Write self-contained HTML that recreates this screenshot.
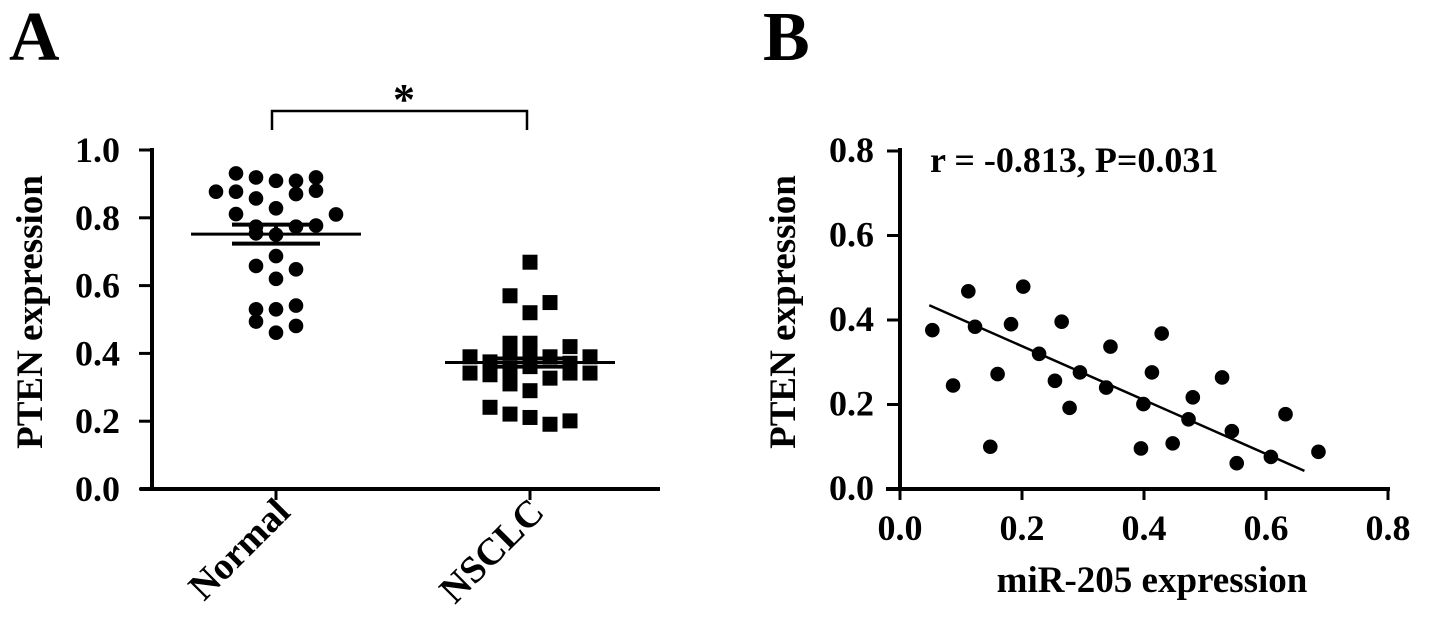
<!DOCTYPE html>
<html><head><meta charset="utf-8"><style>
html,body{margin:0;padding:0;background:#fff;}
svg{display:block;font-family:"Liberation Serif",serif;font-weight:bold;}
</style></head><body>
<svg id="fig" width="1441" height="634" viewBox="0 0 1441 634">
<text x="9" y="60" font-size="70">A</text>
<text x="763" y="60" font-size="70">B</text>
<g id="pa"></g>
<g id="pb"></g>
</svg>
<script>
// Panel A data
const categories = ["Normal", "NSCLC"];
const normalValues = [.931,.919,.909,.909,.919,.877,.877,.870,.880,.857,.828,.811,.810,.774,.774,.777,.754,.750,.687,.658,.648,.620,.530,.530,.541,.494,.481,.461];
const normalSlots = [-2,-1,0,1,2,-3,-2,1,2,-1,0,-2,3,-1,1,2,-1,0,0,-1,1,0,-1,0,1,-1,1,0];
const nsclcValues = [.669,.570,.550,.520,.430,.430,.420,.390,.375,.400,.400,.390,.371,.390,.342,.337,.351,.361,.327,.342,.342,.310,.290,.241,.221,.211,.191,.201];
const nsclcSlots = [0,-1,1,0,-1,0,2,-3,-2,-1,0,1,2,3,-3,-2,-1,0,1,2,3,-1,0,-2,-1,0,1,2];
const meanValues = [.752,.373];
const semValues = [.028,.012];
const yTicksA = ["0.0","0.2","0.4","0.6","0.8","1.0"];
// Panel B data
const mirValues = [.053,.087,.112,.123,.148,.160,.182,.202,.228,.254,.265,.278,.295,.338,.345,.395,.399,.413,.429,.447,.473,.480,.528,.544,.552,.608,.632,.686];
const ptenValues = [.376,.245,.468,.384,.100,.272,.390,.479,.320,.256,.396,.192,.276,.240,.337,.096,.201,.276,.368,.108,.165,.217,.264,.137,.061,.076,.177,.088];
const fitLine = [[.048,.435],[.663,.043]];
const ticksB = ["0.0","0.2","0.4","0.6","0.8"];

const NS="http://www.w3.org/2000/svg";
function mk(parent,tag,attrs,text){const e=document.createElementNS(NS,tag);for(const k in attrs)e.setAttribute(k,attrs[k]);if(text!==undefined)e.textContent=text;parent.appendChild(e);return e;}

// ---- Panel A ----
const pa=document.getElementById('pa');
const yA=v=>489-v*339;
const xCat=i=>[276,530][i];
const slotW=20;
let e;
e=mk(pa,'line',{x1:152,y1:148,x2:152,y2:490,stroke:'#000','stroke-width':4});


e=mk(pa,'line',{x1:140,y1:489,x2:660,y2:489,stroke:'#000','stroke-width':4});


yTicksA.forEach((t,i)=>{const v=parseFloat(t);
 e=mk(pa,'line',{x1:139,y1:yA(v),x2:152,y2:yA(v),stroke:'#000','stroke-width':3});
 
 
 e=mk(pa,'text',{x:120,y:yA(v)+12,'font-size':36,'text-anchor':'end'},t);
 
 
});
categories.forEach((c,i)=>{
 e=mk(pa,'line',{x1:xCat(i),y1:489,x2:xCat(i),y2:500,stroke:'#000','stroke-width':3});
 
 
 e=mk(pa,'text',{x:0,y:0,'font-size':38,'text-anchor':'end',transform:`translate(${xCat(i)+16},${514}) rotate(-45)`},c);
 
 
});
e=mk(pa,'text',{x:0,y:0,'font-size':37,'text-anchor':'middle',transform:'translate(42,312) rotate(-90)'},'PTEN expression');


normalValues.forEach((v,i)=>{
 e=mk(pa,'circle',{cx:xCat(0)+normalSlots[i]*slotW,cy:yA(v),r:7.3,fill:'#000'});
 
 
});
nsclcValues.forEach((v,i)=>{
 e=mk(pa,'rect',{x:xCat(1)+nsclcSlots[i]*slotW-7.5,y:yA(v)-7.5,width:15,height:15,fill:'#000'});
 
 
});
meanValues.forEach((m,i)=>{
 e=mk(pa,'line',{x1:xCat(i)-85,y1:yA(m),x2:xCat(i)+85,y2:yA(m),stroke:'#000','stroke-width':3});
 
 
 [1,-1].forEach(s=>{
  e=mk(pa,'line',{x1:xCat(i)-44,y1:yA(m+s*semValues[i]),x2:xCat(i)+44,y2:yA(m+s*semValues[i]),stroke:'#000','stroke-width':4});
  
  
 });
 e=mk(pa,'line',{x1:xCat(i),y1:yA(m+semValues[i]),x2:xCat(i),y2:yA(m-semValues[i]),stroke:'#000','stroke-width':4});
 
 
});
e=mk(pa,'path',{d:`M${xCat(0)-4} 130 V111 H${xCat(1)-3} V130`,stroke:'#000','stroke-width':2.5,fill:'none'});


e=mk(pa,'text',{x:404,y:114,'font-size':44,'text-anchor':'middle'},'*');



// ---- Panel B ----
const pb=document.getElementById('pb');
const xB=v=>900+v*610;
const yB=v=>489-v*422.5;
e=mk(pb,'line',{x1:900,y1:148,x2:900,y2:491,stroke:'#000','stroke-width':4});


e=mk(pb,'line',{x1:886,y1:489,x2:1390,y2:489,stroke:'#000','stroke-width':4});


ticksB.forEach(t=>{const v=parseFloat(t);
 e=mk(pb,'line',{x1:887,y1:yB(v),x2:900,y2:yB(v),stroke:'#000','stroke-width':3});
 
 
 e=mk(pb,'text',{x:874,y:yB(v)+11,'font-size':36,'text-anchor':'end'},t);
 
 
 e=mk(pb,'line',{x1:xB(v),y1:489,x2:xB(v),y2:500,stroke:'#000','stroke-width':3});
 
 
 e=mk(pb,'text',{x:xB(v),y:540,'font-size':36,'text-anchor':'middle'},t);
 
 
});
e=mk(pb,'text',{x:0,y:0,'font-size':37,'text-anchor':'middle',transform:'translate(795,312) rotate(-90)'},'PTEN expression');


e=mk(pb,'text',{x:1152,y:592,'font-size':37,'text-anchor':'middle'},'miR-205 expression');


e=mk(pb,'text',{x:930,y:172,'font-size':36},'r = -0.813, P=0.031');


e=mk(pb,'line',{x1:xB(fitLine[0][0]),y1:yB(fitLine[0][1]),x2:xB(fitLine[1][0]),y2:yB(fitLine[1][1]),stroke:'#000','stroke-width':2.5});


mirValues.forEach((v,i)=>{
 e=mk(pb,'circle',{cx:xB(v),cy:yB(ptenValues[i]),r:7.3,fill:'#000'});
 
 
});
</script>
</body></html>
